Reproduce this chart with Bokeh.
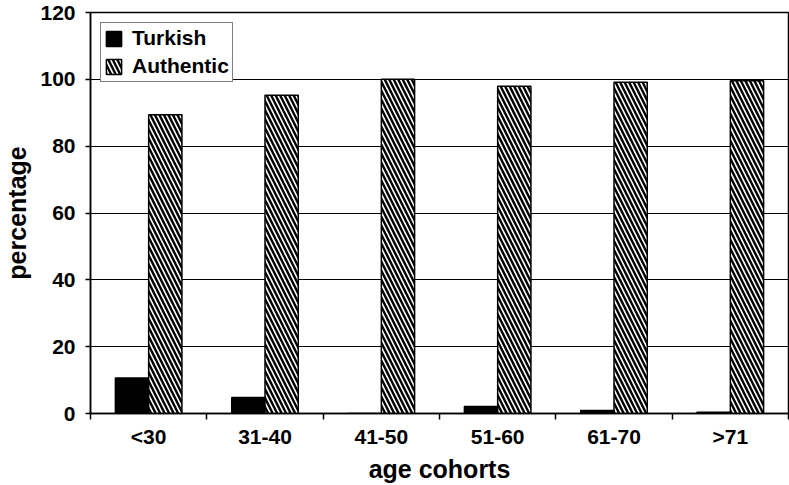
import numpy as np
from bokeh.plotting import figure
from bokeh.models import ColumnDataSource, FixedTicker, Legend, LegendItem
from bokeh.transform import dodge
from bokeh.embed import file_html
from bokeh.resources import INLINE

categories = ["<30", "31-40", "41-50", "51-60", "61-70", ">71"]
turkish = [10.6, 4.8, 0.0, 2.1, 0.9, 0.4]
authentic = [89.4, 95.2, 100.0, 97.9, 99.1, 99.6]
y_ticks = [0, 20, 40, 60, 80, 100, 120]

pos = list(range(1, len(categories) + 1))
boundaries = [i + 0.5 for i in range(0, len(categories) + 1)]
src = ColumnDataSource(dict(pos=pos, turkish=turkish, authentic=authentic))

FONT = "Liberation Sans"

p = figure(width=789, height=485, output_backend="svg", toolbar_location=None,
           x_range=(0.5, 6.5), y_range=(0, 120),
           min_border_left=0, min_border_right=1, min_border_top=12, min_border_bottom=0)
p.background_fill_color = "white"
p.border_fill_color = "white"
p.outline_line_color = "black"
p.outline_line_width = 1.5

bw = 0.286
r1 = p.vbar(x=dodge("pos", -bw / 2), top="turkish", width=bw, source=src,
            fill_color="black", line_color="black", line_width=1.5)
r2 = p.vbar(x=dodge("pos", bw / 2), top="authentic", width=bw, source=src,
            fill_color="white", line_color="black", line_width=1.5,
            hatch_pattern="left_diagonal_line", hatch_color="black",
            hatch_scale=9, hatch_weight=2.4)

# axes
p.xaxis.ticker = FixedTicker(ticks=pos, minor_ticks=boundaries)
p.xaxis.major_label_overrides = {k: c for k, c in zip(pos, categories)}
p.xaxis.major_tick_out = 0
p.xaxis.major_tick_in = 0
p.xaxis.minor_tick_out = 6
p.xaxis.minor_tick_in = 0
p.xaxis.minor_tick_line_color = "black"
p.xaxis.minor_tick_line_width = 1.5
p.xaxis.major_label_standoff = 5
p.xaxis.axis_label = "age cohorts"
p.xaxis.axis_label_standoff = 4

p.yaxis.ticker = FixedTicker(ticks=y_ticks)
p.yaxis.major_tick_out = 5
p.yaxis.major_tick_in = 0
p.yaxis.minor_tick_out = 0
p.yaxis.minor_tick_in = 0
p.yaxis.major_label_standoff = 10
p.yaxis.axis_label = "percentage"
p.yaxis.axis_label_standoff = 6

for ax in (p.xaxis[0], p.yaxis[0]):
    ax.axis_line_color = "black"
    ax.axis_line_width = 1.5
    ax.major_tick_line_color = "black"
    ax.major_tick_line_width = 1.5
    ax.major_label_text_font = FONT
    ax.major_label_text_font_style = "bold"
    ax.major_label_text_font_size = "21px"
    ax.major_label_text_color = "black"
    ax.axis_label_text_font = FONT
    ax.axis_label_text_font_style = "bold"
    ax.axis_label_text_font_size = "25px"
    ax.axis_label_text_color = "black"

p.xgrid.visible = False
p.ygrid.ticker = FixedTicker(ticks=y_ticks)
p.ygrid.grid_line_color = "black"
p.ygrid.grid_line_width = 1

legend = Legend(items=[LegendItem(label="Turkish", renderers=[r1]),
                       LegendItem(label="Authentic", renderers=[r2])],
                location="top_left")
legend.border_line_color = "black"
legend.border_line_width = 1.5
legend.background_fill_color = "white"
legend.background_fill_alpha = 1
legend.label_text_font = FONT
legend.label_text_font_style = "bold"
legend.label_text_font_size = "21px"
legend.label_text_color = "black"
legend.glyph_width = 19
legend.glyph_height = 19
legend.label_height = 19
legend.label_standoff = 9
legend.spacing = 4
legend.padding = 3
legend.margin = 10
p.add_layout(legend)

open("out.html", "w").write(file_html(p, INLINE))
